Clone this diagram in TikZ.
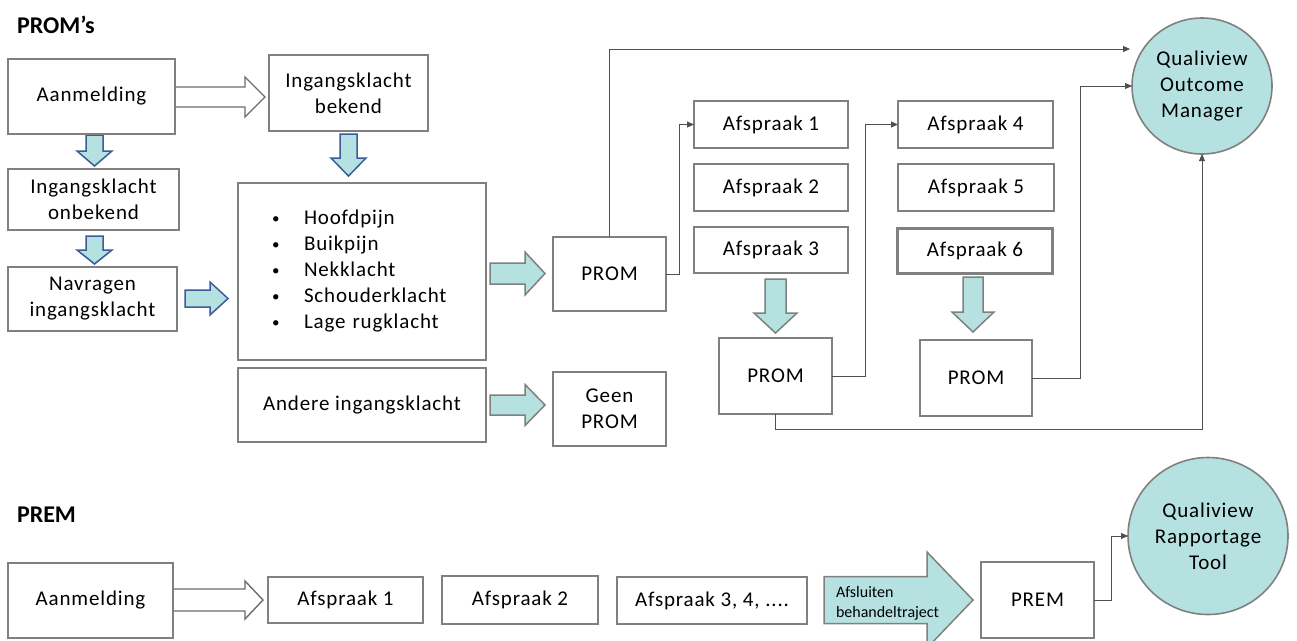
\documentclass[tikz,border=0pt]{standalone}
\usepackage{fontspec}
\setmainfont{Carlito}[LetterSpace=4]
\newfontfamily\plainfont{Carlito}
\usetikzlibrary{arrows.meta,shapes.geometric}

\definecolor{boxgray}{HTML}{808080}
\definecolor{linegray}{HTML}{505050}
\definecolor{tealfill}{HTML}{B5E1E1}
\definecolor{arrowblue}{HTML}{3A5C99}

% block arrow pointing right: style, tail x, head start x, tip x, centre y, shaft half, head half
\newcommand\blkright[7]{%
  \draw[#1] (#2,{#5-#6}) -- (#3,{#5-#6}) -- (#3,{#5-#7}) -- (#4,#5)
    -- (#3,{#5+#7}) -- (#3,{#5+#6}) -- (#2,{#5+#6}) -- cycle;}
% block arrow pointing down: style, centre x, top y, head start y, tip y, shaft half, head half
\newcommand\blkdown[7]{%
  \draw[#1] ({#2-#6},#3) -- ({#2-#6},#4) -- ({#2-#7},#4) -- (#2,#5)
    -- ({#2+#7},#4) -- ({#2+#6},#4) -- ({#2+#6},#3) -- cycle;}
% list bullet
\newcommand\lbul{\hspace*{34pt}\makebox[32pt][l]{\raisebox{1pt}{\fontsize{15}{15}\selectfont•}}}

\begin{document}
\begin{tikzpicture}[x=1pt,y=-1pt,
  every node/.style={font=\fontsize{21}{26}\selectfont, inner sep=0pt, outer sep=0pt},
  box/.style={draw=boxgray, line width=1.6pt, fill=white, align=center},
  title/.style={font=\fontsize{24}{28}\selectfont\plainfont\bfseries, anchor=west},
  hollow/.style={draw=boxgray!85!black, line width=1.4pt, fill=white},
  bluearrow/.style={draw=arrowblue, line width=1.5pt, fill=tealfill},
  tealarrow/.style={draw=boxgray, line width=1.5pt, fill=tealfill},
  hub/.style={ellipse, draw=boxgray, line width=1.6pt, fill=tealfill, align=center},
  conn/.style={draw=linegray, line width=0.9pt, -{Triangle[length=7pt,width=6pt]}}
]
\clip (0,0) rectangle (1297,640);
\fill[white] (0,0) rectangle (1297,640);

% ---------- block arrows ----------
\blkright{hollow}{175}{245}{265}{97}{10}{20}
\blkdown{bluearrow}{94.5}{135}{151}{166}{8.5}{17.5}
\blkdown{bluearrow}{94.5}{236}{250}{264}{8.5}{17.5}
\blkright{bluearrow}{185}{210}{228}{298.5}{8.5}{16.5}
\blkdown{bluearrow}{348.5}{134}{158}{176}{8.5}{17.5}
\blkright{tealarrow}{490}{525}{545}{273.5}{10.5}{21.5}
\blkright{tealarrow}{490}{525}{545}{405}{10}{20.5}
\blkdown{tealarrow}{775.5}{279}{313}{333}{10.5}{21.5}
\blkdown{tealarrow}{973}{277}{312}{332}{10}{21}
\blkright{hollow}{173}{245}{263}{600}{11}{19}
\blkright{tealarrow}{824}{927}{973}{600}{23.5}{48}

% ---------- PROM's ----------
\node[title] (tprom) at (17,25) {PROM’s};

\node[box, minimum width=167, minimum height=75] (aan1) at (91.5,96.5) {Aanmelding};
\node[box, minimum width=159, minimum height=76] (ikb) at (348.5,93) {Ingangsklacht\\bekend};
\node[box, minimum width=171, minimum height=61] (iko) at (93.5,199.5) {Ingangsklacht\\onbekend};
\node[box, minimum width=169, minimum height=64] (nav) at (92.5,299) {Navragen\\ingangsklacht};
\node[box, minimum width=248, minimum height=177, text width=248, align=left] (lst) at (362,271.5)
  {\lbul Hoofdpijn\\
   \lbul Buikpijn\\
   \lbul Nekklacht\\
   \lbul Schouderklacht\\
   \lbul Lage rugklacht};
\node[box, minimum width=248, minimum height=74] (and) at (362,405) {Andere ingangsklacht};

\node[box, minimum width=113, minimum height=74] (prom1) at (609.5,274) {PROM};
\node[box, minimum width=113, minimum height=74] (geen) at (609.5,409) {Geen\\PROM};

\node[box, minimum width=154, minimum height=47] (a1) at (771,124.5) {Afspraak 1};
\node[box, minimum width=154, minimum height=47] (a2) at (771,187.5) {Afspraak 2};
\node[box, minimum width=154, minimum height=46] (a3) at (771,250) {Afspraak 3};
\node[box, minimum width=113, minimum height=76] (prom2) at (775.5,376) {PROM};

\node[box, minimum width=155, minimum height=47] (a4) at (975.5,124.5) {Afspraak 4};
\node[box, minimum width=156, minimum height=47] (a5) at (976,187.5) {Afspraak 5};
\node[box, line width=2.6pt, minimum width=155, minimum height=45] (a6) at (975,251) {Afspraak 6};
\node[box, minimum width=112, minimum height=76] (prom3) at (976,378) {PROM};

\node[hub, minimum width=140, minimum height=136] (qom) at (1202,86)
  {Qualiview\\Outcome\\Manager};

\coordinate (qomtop) at (1130,49);
\draw[conn] (prom1.north) |- (qomtop);
\draw[conn] (prom1.east) -- ++(13,0) |- (a1.west);
\draw[conn] (prom2.east) -- ++(33,0) |- (a4.west);
\draw[conn] (prom2.south) -- ++(0,15) -| (qom.south);
\draw[conn] (prom3.east) -- ++(48,0) |- (qom.west);

% ---------- PREM ----------
\node[title] (tprem) at (17,515) {PREM};

\node[box, minimum width=165, minimum height=75] (aan2) at (90.5,600.5) {Aanmelding};
\node[box, minimum width=155, minimum height=46] (b1) at (345.5,600) {Afspraak 1};
\node[box, minimum width=156, minimum height=48] (b2) at (520,600) {Afspraak 2};
\node[box, minimum width=190, minimum height=47] (b3) at (712,600.5) {Afspraak 3, 4, ....};
\node[anchor=west, align=left, font=\fontsize{16}{20}\selectfont\plainfont] (afs) at (836,603)
  {Afsluiten\\behandeltraject};
\node[box, minimum width=113, minimum height=76] (prem) at (1037.5,600) {PREM};

\node[hub, minimum width=160, minimum height=157] (qrt) at (1208,536)
  {Qualiview\\Rapportage\\Tool};

\draw[conn] (prem.east) -- ++(17,0) |- (qrt.west);
\end{tikzpicture}
\end{document}
